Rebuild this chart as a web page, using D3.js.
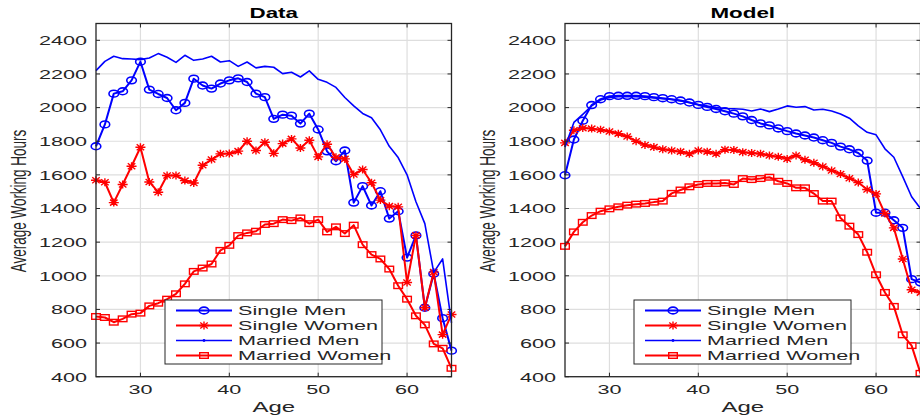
<!DOCTYPE html>
<html>
<head>
<meta charset="utf-8">
<script src="https://cdn.jsdelivr.net/npm/d3@7"></script>
<style>
  body { margin: 0; background: #fff; }
  text { font-family: "Liberation Sans", Arial, Helvetica, sans-serif; fill: #262626; }
</style>
</head>
<body>
<svg width="920" height="419"></svg>
<script>
var ages = [25,26,27,28,29,30,31,32,33,34,35,36,37,38,39,40,41,42,43,44,45,
            46,47,48,49,50,51,52,53,54,55,56,57,58,59,60,61,62,63,64,65]
var yTicks = [400,600,800,1000,1200,1400,1600,1800,2000,2200,2400]
var xTicks = [30,40,50,60]
var seriesNames = ["Single Men","Single Women","Married Men","Married Women"]
var panelTitles = ["Data","Model"]

// observed
var dataSingleMen = [1770,1900,2083,2097,2162,2273,2107,2081,2057,1984,2028,2172,2131,2113,2143,2162,2174,2152,2083,2062,
                     1933,1958,1952,1905,1964,1870,1740,1681,1745,1435,1533,1418,1503,1340,1384,1108,1240,810,1012,748,555]
var dataSingleWomen = [1568,1556,1435,1543,1651,1764,1558,1497,1596,1596,1566,1552,1657,1691,1725,1727,1741,1800,1745,1794,
                       1728,1786,1814,1760,1806,1707,1782,1705,1695,1602,1632,1553,1450,1414,1410,960,1240,810,1022,650,770]
var dataMarriedMen = [2220,2275,2305,2291,2289,2285,2295,2321,2299,2269,2311,2281,2289,2305,2271,2279,2245,2271,2236,2245,
                      2240,2202,2210,2182,2218,2168,2150,2120,2060,2010,1965,1940,1868,1770,1703,1600,1440,1310,1020,1100,720]
var dataMarriedWomen = [758,752,724,744,772,778,821,837,861,893,952,1026,1046,1070,1151,1181,1239,1255,1265,1305,
                        1310,1334,1328,1344,1310,1334,1261,1291,1251,1301,1185,1126,1100,1040,941,861,762,708,595,569,450]

// model
var modelSingleMen = [1598,1810,1922,2015,2050,2068,2070,2070,2070,2068,2062,2056,2050,2042,2030,2016,2004,1992,1978,1964,
                      1948,1926,1906,1894,1876,1860,1846,1834,1822,1806,1790,1768,1752,1730,1685,1375,1375,1330,1285,980,960]
var modelSingleWomen = [1790,1865,1878,1875,1868,1858,1845,1828,1800,1778,1765,1752,1745,1738,1726,1745,1738,1726,1750,1748,
                        1735,1730,1725,1715,1708,1695,1715,1690,1672,1650,1626,1605,1580,1555,1513,1487,1370,1285,1100,917,900]
var modelMarriedMen = [1765,1912,1960,2010,2045,2060,2065,2065,2065,2062,2058,2053,2048,2040,2030,2018,2010,2000,1995,1993,
                       1990,1980,1992,1976,1992,2010,2002,2006,1986,1990,1980,1962,1937,1891,1853,1838,1755,1705,1590,1470,1400]
var modelMarriedWomen = [1175,1261,1318,1358,1384,1398,1410,1420,1426,1430,1438,1444,1490,1510,1529,1543,1549,1549,1552,1543,
                         1578,1572,1578,1586,1562,1549,1523,1523,1489,1444,1444,1344,1295,1245,1140,1006,901,818,649,585,420]

var panels = [
  [dataSingleMen, dataSingleWomen, dataMarriedMen, dataMarriedWomen],
  [modelSingleMen, modelSingleWomen, modelMarriedMen, modelMarriedWomen]
]
var colors = ["#0000ff","#ff0000","#0000ff","#ff0000"]
var markers = ["circle","star","dot","square"]
var widths = [2,2,1.6,2]

var svg = d3.select("svg")
var sx = 1.6  // text is horizontally stretched in the picture
var plot = {top: 23.5, bottom: 376.7, width: 355.5}
var lefts = [96, 565]

function stext(g, x, y, str, anchor, size, weight) {
  return g.append("text")
    .attr("transform", "translate(" + x + "," + y + ") scale(" + sx + ",1)")
    .attr("text-anchor", anchor)
    .style("font-size", size + "px")
    .style("font-weight", weight || "normal")
    .text(str)
}

function drawMarker(g, type, x, y, color) {
  if (type == "circle") {
    g.append("ellipse").attr("cx", x).attr("cy", y).attr("rx", 4.8).attr("ry", 3.4)
     .attr("fill", "none").attr("stroke", color).attr("stroke-width", 1.6)
  } else if (type == "square") {
    g.append("rect").attr("x", x - 4.3).attr("y", y - 2.8).attr("width", 8.6).attr("height", 5.6)
     .attr("fill", "none").attr("stroke", color).attr("stroke-width", 1.4)
  } else if (type == "star") {
    var a = 5, b = 4
    g.append("path")
     .attr("d", "M" + (x - a) + "," + y + "H" + (x + a) +
                "M" + x + "," + (y - b) + "V" + (y + b) +
                "M" + (x - a * 0.75) + "," + (y - b * 0.75) + "L" + (x + a * 0.75) + "," + (y + b * 0.75) +
                "M" + (x - a * 0.75) + "," + (y + b * 0.75) + "L" + (x + a * 0.75) + "," + (y - b * 0.75))
     .attr("stroke", color).attr("stroke-width", 1.4).attr("fill", "none")
  } else if (type == "dot") {
    g.append("circle").attr("cx", x).attr("cy", y).attr("r", 1.4).attr("fill", color)
  }
}

panels.forEach(function(series, p) {
  var left = lefts[p]
  var x = d3.scaleLinear().domain([25, 65]).range([left, left + plot.width])
  var y = d3.scaleLinear().domain([400, 2500]).range([plot.bottom, plot.top])
  var g = svg.append("g")

  // grid
  g.selectAll(".gx").data(xTicks).enter().append("line")
   .attr("x1", function(d){return x(d)}).attr("x2", function(d){return x(d)})
   .attr("y1", plot.top).attr("y2", plot.bottom)
   .attr("stroke", "#dedede").attr("stroke-width", 1.2)
  g.selectAll(".gy").data(yTicks).enter().append("line")
   .attr("x1", left).attr("x2", left + plot.width)
   .attr("y1", function(d){return y(d)}).attr("y2", function(d){return y(d)})
   .attr("stroke", "#dedede").attr("stroke-width", 1.2)

  // lines and markers
  var line = d3.line().x(function(d, i){return x(ages[i])}).y(function(d){return y(d)})
  series.forEach(function(vals, s) {
    g.append("path").datum(vals).attr("d", line)
     .attr("fill", "none").attr("stroke", colors[s]).attr("stroke-width", widths[s])
     .attr("stroke-linejoin", "round")
    if (markers[s] != "dot") {
      vals.forEach(function(v, i) { drawMarker(g, markers[s], x(ages[i]), y(v), colors[s]) })
    }
  })

  // box and inward ticks
  g.append("rect").attr("x", left).attr("y", plot.top).attr("width", plot.width)
   .attr("height", plot.bottom - plot.top).attr("fill", "none").attr("stroke", "#262626").attr("stroke-width", 1.3)
  xTicks.forEach(function(t) {
    g.append("line").attr("x1", x(t)).attr("x2", x(t)).attr("y1", plot.bottom).attr("y2", plot.bottom - 4)
     .attr("stroke", "#262626")
    g.append("line").attr("x1", x(t)).attr("x2", x(t)).attr("y1", plot.top).attr("y2", plot.top + 4)
     .attr("stroke", "#262626")
    stext(g, x(t), 393.5, t, "middle", 13.5)
  })
  yTicks.forEach(function(t) {
    g.append("line").attr("x1", left).attr("x2", left + 4).attr("y1", y(t)).attr("y2", y(t))
     .attr("stroke", "#262626")
    g.append("line").attr("x1", left + plot.width).attr("x2", left + plot.width - 4).attr("y1", y(t)).attr("y2", y(t))
     .attr("stroke", "#262626")
    stext(g, left - 9, y(t) + 4.8, t, "end", 13.5)
  })

  // labels
  stext(g, left + plot.width / 2, 18, panelTitles[p], "middle", 14, "bold").style("fill", "#000")
  stext(g, left + plot.width / 2, 412, "Age", "middle", 15)
  g.append("text")
   .attr("transform", "translate(" + (left - 70.5) + ",201) scale(1.6,1) rotate(-90)")
   .attr("text-anchor", "middle").style("font-size", "13.5px")
   .text("Average Working Hours")

  // legend
  var lx = left + 69, ly = 300
  var lg = g.append("g")
  lg.append("rect").attr("x", lx).attr("y", ly).attr("width", 217).attr("height", 64)
   .attr("fill", "#fff").attr("stroke", "#262626").attr("stroke-width", 1)
  seriesNames.forEach(function(name, s) {
    var ry = ly + 10.5 + s * 15
    lg.append("line").attr("x1", lx + 11).attr("x2", lx + 67).attr("y1", ry).attr("y2", ry)
     .attr("stroke", colors[s]).attr("stroke-width", widths[s])
    drawMarker(lg, markers[s], lx + 39, ry, colors[s])
    stext(lg, lx + 73, ry + 4.8, name, "start", 13.5)
  })
})
</script>
</body>
</html>
